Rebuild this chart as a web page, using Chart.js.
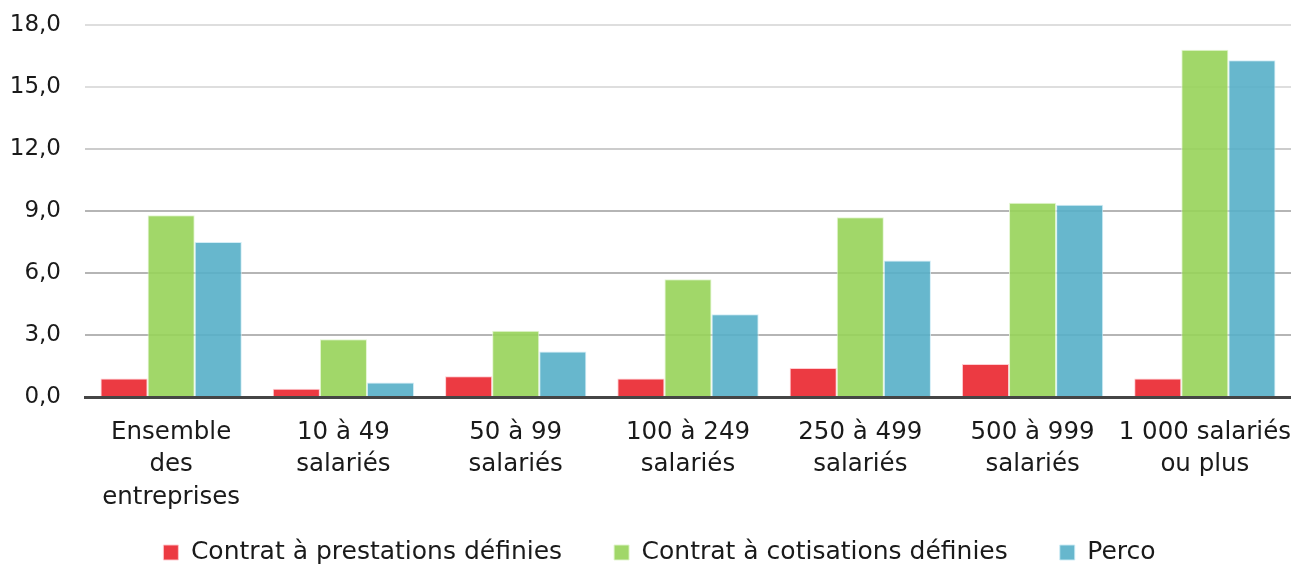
<!DOCTYPE html>
<html lang="fr">
<head>
<meta charset="utf-8">
<script src="https://cdn.jsdelivr.net/npm/chart.js@4/dist/chart.umd.min.js"></script>
<style>
  html, body { margin: 0; padding: 0; background: #ffffff; }
  #wrap { width: 1291px; height: 565px; position: relative; }
</style>
</head>
<body>
<div id="wrap"><canvas id="chart"></canvas></div>
<script>
// Catégories d'entreprises (libellés sur plusieurs lignes)
const categories = [
  ["Ensemble", "des", "entreprises"],
  ["10 à 49", "salariés"],
  ["50 à 99", "salariés"],
  ["100 à 249", "salariés"],
  ["250 à 499", "salariés"],
  ["500 à 999", "salariés"],
  ["1 000 salariés", "ou plus"]
];

// Part des entreprises proposant chaque dispositif (%)
const prestationsDefinies = [0.9, 0.4, 1.0, 0.9, 1.4, 1.6, 0.9];
const cotisationsDefinies = [8.8, 2.8, 3.2, 5.7, 8.7, 9.4, 16.8];
const perco = [7.5, 0.7, 2.2, 4.0, 6.6, 9.3, 16.3];

const seriesNames = ["Contrat à prestations définies", "Contrat à cotisations définies", "Perco"];

// Graduations de l'axe vertical
const yTicks = [0, 3, 6, 9, 12, 15, 18];

const FONT = "'Century Gothic', 'DejaVu Sans', sans-serif";
const LABEL_SIZE = 24.5;
const LEGEND_SIZE = 25;
const TICK_SIZE = 23;

const fill = [
  "rgba(234, 37, 46, 0.9)",
  "rgba(151, 211, 89, 0.9)",
  "rgba(86, 175, 200, 0.9)"
];
const edge = [
  "rgba(255, 200, 205, 0.9)",
  "rgba(225, 245, 205, 0.9)",
  "rgba(205, 235, 245, 0.9)"
];

const values = [prestationsDefinies, cotisationsDefinies, perco];

const datasets = values.map((v, i) => ({
  label: seriesNames[i],
  data: v,
  backgroundColor: fill[i],
  borderColor: edge[i],
  borderWidth: 1,
  categoryPercentage: 0.82,
  barPercentage: 1.0
}));

// Légende : un cadratin après chaque libellé (sauf le dernier) pour espacer les entrées
const defaultLegendLabels = Chart.defaults.plugins.legend.labels.generateLabels;
function spacedLegendLabels(chart) {
  const items = defaultLegendLabels(chart);
  items.forEach((it, i) => {
    if (i < items.length - 1) it.text = it.text + "\u2003";
  });
  return items;
}

// Décale légèrement la légende vers la droite
const legendShift = {
  id: "legendShift",
  afterLayout(chart) {
    if (chart.legend) {
      chart.legend.left += 14;
      chart.legend.right += 14;
    }
  }
};

new Chart(document.getElementById("chart"), {
  type: "bar",
  data: { labels: categories, datasets },
  plugins: [legendShift],
  options: {
    responsive: true,
    maintainAspectRatio: false,
    animation: false,
    layout: { padding: 0 },
    plugins: {
      tooltip: { enabled: false },
      legend: {
        position: "bottom",
        maxHeight: 52,
        labels: {
          font: { family: FONT, size: LEGEND_SIZE },
          color: "#1a1a1a",
          boxWidth: 15,
          boxHeight: 15,
          padding: 27,
          generateLabels: spacedLegendLabels
        }
      }
    },
    scales: {
      x: {
        grid: { display: false, drawTicks: false },
        border: { display: true, color: "#454545", width: 3 },
        afterFit: (axis) => {
          axis.height = 116;
          axis.paddingLeft = 0;
          axis.paddingRight = 0;
        },
        ticks: {
          font: { family: FONT, size: LABEL_SIZE, lineHeight: 1.33 },
          color: "#1a1a1a",
          padding: 19,
          maxRotation: 0,
          autoSkip: false
        }
      },
      y: {
        min: 0,
        max: 18,
        afterFit: (axis) => {
          axis.width = 85;
          axis.paddingTop = 25;
        },
        afterBuildTicks: (axis) => { axis.ticks = yTicks.map(v => ({ value: v })); },
        border: { display: false },
        grid: {
          drawTicks: false,
          lineWidth: 2,
          color: (ctx) => {
            const v = ctx.tick ? ctx.tick.value : 0;
            if (v >= 15) return "#dedede";
            if (v >= 12) return "#cccccc";
            return "#b5b5b5";
          }
        },
        ticks: {
          font: { family: FONT, size: TICK_SIZE },
          color: "#1a1a1a",
          padding: 24,
          callback: (v) => Number(v).toFixed(1).replace(".", ",")
        }
      }
    }
  }
});
</script>
</body>
</html>
